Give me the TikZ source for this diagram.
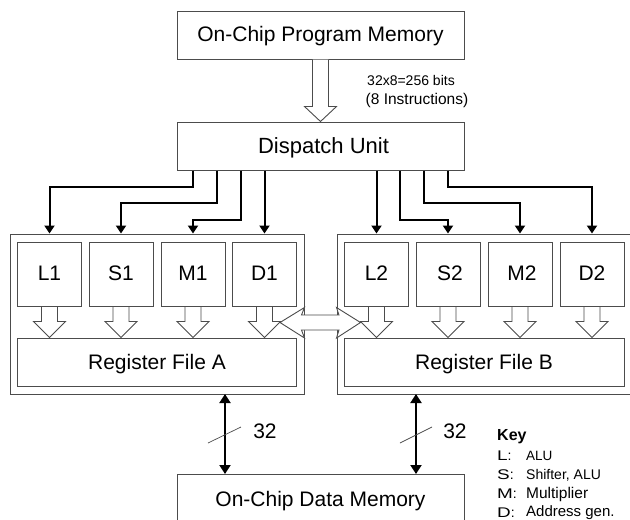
\documentclass[tikz,border=0pt]{standalone}
\usepackage{fontspec}
\usepackage{graphicx}
\setmainfont{Liberation Sans}
\usetikzlibrary{arrows.meta,calc}
\newcommand{\fsz}[1]{\fontsize{#1}{#1}\selectfont}
\newcommand{\widen}[1]{\scalebox{1.35}[1]{#1}}
\tikzset{
  x=1pt,y=-1pt,
  box/.style={draw=black!70,line width=1pt,fill=white,inner sep=0pt,font=\fsz{21},text height=15pt,text depth=0pt},
  unit/.style={box,minimum width=64pt,minimum height=64pt,text depth=2.5pt},
  regfile/.style={box,minimum width=279pt,minimum height=48pt},
  wide/.style={box,minimum width=287pt,minimum height=48pt},
  outer/.style={draw=black!70,line width=1pt,fill=white,inner sep=0pt},
  hollow/.style={draw=black!70,line width=.9pt,fill=white,line join=miter},
  bus/.style={draw=black,line width=2pt,-{Triangle[length=8pt,width=10pt]}},
  bibus/.style={draw=black,line width=2pt,{Triangle[length=9pt,width=11pt]}-{Triangle[length=9pt,width=11pt]}},
  tick/.style={draw=black!70,line width=.7pt},
  lbl/.style={inner sep=0pt,font=\fsz{21}},
  small/.style={inner sep=0pt},
  key/.style={inner sep=0pt,anchor=west,font=\fsz{14}},
}
\newcommand{\hollowdown}[2]{%
  \coordinate (s) at (#1.south);
  \coordinate (t) at (#1.south |- #2.north);
  \draw[hollow] ($(s)+(-8,0)$) -- ($(t)+(-8,-16)$) -- ($(t)+(-16,-16)$) -- (t)
    -- ($(t)+(16,-16)$) -- ($(t)+(8,-16)$) -- ($(s)+(8,0)$);
}
\begin{document}
\begin{tikzpicture}
\useasboundingbox (0,0) rectangle (630,520);
\clip (0,0) rectangle (630,520);
\fill[white] (0,0) rectangle (630,520);

\node[wide,text depth=2pt] (prog) at (320.5,35) {On-Chip Program Memory};
\node[wide,font=\fsz{22}] (disp) at (320.5,146) {\hspace*{6pt}Dispatch Unit};
\node[wide,anchor=north] (data) at (320.5,474) {On-Chip Data Memory};

\node[outer,minimum width=294pt,minimum height=160pt] (outA) at (157,314) {};
\node[outer,minimum width=320pt,minimum height=160pt,anchor=west] (outB) at (336.5,314) {};

\node[unit] (L1) at (49.5,274.5) {L1};
\node[unit] (S1) at (121,274.5) {S1};
\node[unit] (M1) at (193,274.5) {M1};
\node[unit] (D1) at (264.5,274.5) {D1};
\node[regfile] (RA) at (157,362) {Register File A};

\node[unit] (L2) at (376.5,274.5) {L2};
\node[unit] (S2) at (448,274.5) {\hspace*{4pt}S2};
\node[unit] (M2) at (520,274.5) {\hspace*{4pt}M2};
\node[unit] (D2) at (592,274.5) {D2};
\node[regfile,minimum width=280pt] (RB) at (484,362) {Register File B};

% hollow arrows
\draw[hollow] ($(prog.south)+(-8,0)$) -- ($(disp.north)+(-8,-15)$) -- ($(disp.north)+(-16,-15)$)
  -- (disp.north) -- ($(disp.north)+(16,-15)$) -- ($(disp.north)+(8,-15)$) -- ($(prog.south)+(8,0)$);
\hollowdown{L1}{RA}
\hollowdown{S1}{RA}
\hollowdown{M1}{RA}
\hollowdown{D1}{RA}
\hollowdown{L2}{RB}
\hollowdown{S2}{RB}
\hollowdown{M2}{RB}
\hollowdown{D2}{RB}

% double hollow arrow between the two groups
\coordinate (dl) at (280,322.5);
\coordinate (dr) at (360.5,322.5);
\draw[hollow] (dl) -- (304.5,307.5) -- (301.5,315) -- (339,315) -- (336.5,307.5) -- (dr)
  -- (336.5,338) -- (339,330) -- (301.5,330) -- (304.5,338) -- cycle;

% buses from dispatch
\draw[bus] ([xshift=-127.5]disp.south) -- ++(0,16.5) -| (L1.north |- outA.north);
\draw[bus] ([xshift=-103.5]disp.south) -- ++(0,32) -| (S1.north |- outA.north);
\draw[bus] ([xshift=-79.5]disp.south) -- ++(0,49) -| (M1.north |- outA.north);
\draw[bus] (disp.south -| D1.north) -- (D1.north |- outA.north);
\draw[bus] (disp.south -| L2.north) -- (L2.north |- outB.north);
\draw[bus] ([xshift=79.5]disp.south) -- ++(0,49) -| (S2.north |- outB.north);
\draw[bus] ([xshift=103.5]disp.south) -- ++(0,32) -| (M2.north |- outB.north);
\draw[bus] ([xshift=127.5]disp.south) -- ++(0,16.5) -| (D2.north |- outB.north);

% buses to data memory
\coordinate (ba) at (225,394);
\coordinate (bb) at (416,394);
\draw[bibus] (ba) -- (ba |- data.north);
\draw[bibus] (bb) -- (bb |- data.north);
\coordinate (ta1) at (208,443);
\coordinate (ta2) at (241,427);
\coordinate (tb1) at (400,443);
\coordinate (tb2) at (432,427);
\draw[tick] (ta1) -- (ta2);
\draw[tick] (tb1) -- (tb2);
\node[lbl] (n32a) at (265,431) {32};
\node[lbl] (n32b) at (455,431) {32};

\node[small,font=\fsz{14}] (bits) at (411,80) {32x8=256 bits};
\node[small,font=\fsz{15.5}] (instr) at (417,100) {(8 Instructions)};

\node[key,font=\fsz{16}\bfseries] (keyhead) at (497,437) {Key};
\node[key] (kl) at (497,456) {\widen{L}:};
\node[key,font=\fsz{13.5}] (kla) at (526,456) {ALU};
\node[key] (ks) at (497,475) {\widen{S}:};
\node[key] (ksa) at (526,475) {Shifter, ALU};
\node[key] (km) at (497,494) {\widen{M}:};
\node[key,font=\fsz{15.5}] (kma) at (526,494) {Multiplier};
\node[key] (kd) at (497,513) {\widen{D}:};
\node[key,font=\fsz{15}] (kda) at (526,513) {Address gen.};
\end{tikzpicture}
\end{document}
